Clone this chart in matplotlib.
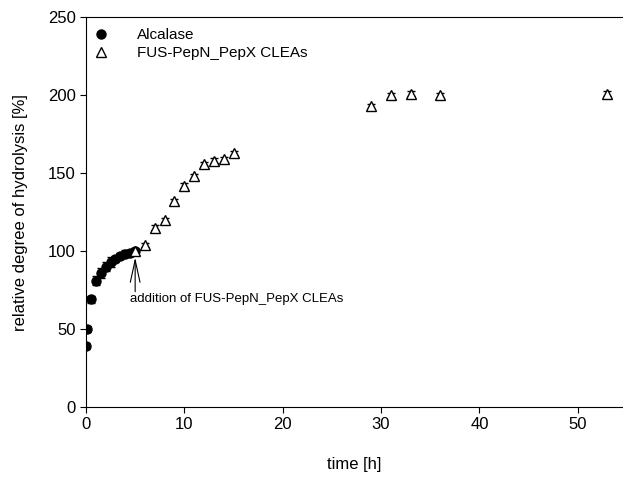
import numpy as np
import matplotlib
matplotlib.use('Agg')
import matplotlib.pyplot as plt

plt.rcParams['font.family'] = ['Liberation Sans', 'DejaVu Sans']

# Alcalase hydrolysis (filled circles)
alc_time = [0, 0.08, 0.5, 1, 1.5, 2, 2.5, 3, 3.5, 4, 4.5, 5]
alc_dh = [39, 50, 69, 81, 86, 90, 93, 95, 97, 98.5, 99, 100]
alc_err = [2, 2, 2, 3, 3, 3, 3, 2, 2, 2, 2, 2]

# FUS-PepN_PepX CLEAs added after 5 h (open triangles)
clea_time = [5, 6, 7, 8, 9, 10, 11, 12, 13, 14, 15, 29, 31, 33, 36, 53]
clea_dh = [100, 104, 115, 120, 132, 142, 148, 156, 158, 159, 163,
           193, 200, 201, 200, 201]
clea_err = [1.5, 1, 1.5, 1.5, 1.5, 1.5, 1.5, 1.5, 1.5, 1.5, 1.5,
            1.5, 1.5, 1.5, 1.5, 1.5]

fig = plt.figure(figsize=(6.23, 4.79), dpi=100)
ax = fig.add_axes([0.138, 0.1503, 0.862, 0.8132])

ax.errorbar(alc_time, alc_dh, yerr=alc_err, fmt='o', color='black',
            markersize=6.5, capsize=3, elinewidth=0.8, label='Alcalase', zorder=3)
ax.errorbar(clea_time, clea_dh, yerr=clea_err, fmt='^', color='black',
            markerfacecolor='white', markeredgewidth=1, markersize=7.5,
            capsize=3, elinewidth=0.8, label='FUS-PepN_PepX CLEAs', zorder=4)

# arrow marking the CLEA addition
ax.annotate('', xy=(5, 96), xytext=(5, 74),
            arrowprops=dict(arrowstyle='->,head_length=1.6,head_width=0.35',
                            color='black', lw=0.8, shrinkA=0, shrinkB=0))
ax.text(4.5, 69, 'addition of FUS-PepN_PepX CLEAs', fontsize=9.5,
        va='center', ha='left')

ax.set_xlim(0, 54.6)
ax.set_ylim(0, 250)
ax.set_xticks([0, 10, 20, 30, 40, 50])
ax.set_yticks([0, 50, 100, 150, 200, 250])
ax.tick_params(direction='out', length=4, width=0.8, labelsize=12)
ax.spines['right'].set_visible(False)
for s in ['left', 'bottom', 'top']:
    ax.spines[s].set_linewidth(0.8)

ax.set_xlabel('time [h]', fontsize=12, labelpad=18)
ax.set_ylabel('relative degree of hydrolysis [%]', fontsize=12, labelpad=14)

handles, labels = ax.get_legend_handles_labels()
handles = [h[0] for h in handles]
ax.legend(handles, labels, loc='upper left', frameon=False, fontsize=11,
          handletextpad=1.6, labelspacing=0.23, borderaxespad=0.6,
          handlelength=1.5, bbox_to_anchor=(-0.022, 1.011))

fig.savefig('out.png', dpi=100)
